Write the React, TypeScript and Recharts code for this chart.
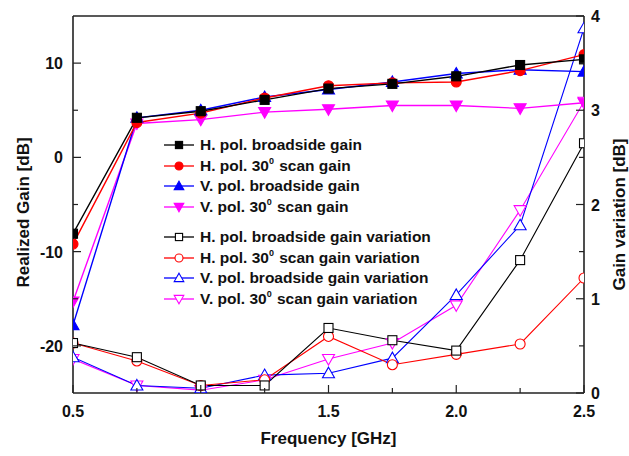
import React from 'react';
import { ComposedChart, Line, XAxis, YAxis, ReferenceLine } from 'recharts';

// frequency points [GHz]
const freq = [0.5, 0.75, 1.0, 1.25, 1.5, 1.75, 2.0, 2.25, 2.5];

// realized gain [dB] (left axis)
const hBroadGain = [-8.1, 4.2, 4.9, 6.1, 7.3, 7.8, 8.6, 9.8, 10.4];
const hScanGain = [-9.2, 3.7, 4.7, 6.3, 7.6, 7.9, 8.0, 9.2, 10.9];
const vBroadGain = [-17.8, 4.2, 5.0, 6.4, 7.2, 8.0, 8.9, 9.3, 9.1];
const vScanGain = [-15.3, 3.6, 4.0, 4.8, 5.1, 5.5, 5.5, 5.2, 5.8];

// gain variation [dB] (right axis)
const hBroadVar = [0.53, 0.38, 0.08, 0.08, 0.69, 0.56, 0.45, 1.41, 2.65];
const hScanVar = [0.53, 0.34, 0.08, 0.14, 0.6, 0.3, 0.41, 0.52, 1.22];
const vBroadVar = [0.38, 0.08, 0.05, 0.19, 0.21, 0.37, 1.04, 1.78, 3.87];
const vScanVar = [0.36, 0.08, 0.03, 0.14, 0.36, 0.53, 0.93, 1.94, 3.09];

const xTicks = [0.5, 0.75, 1.0, 1.25, 1.5, 1.75, 2.0, 2.25, 2.5];
const leftTicks = [-20, -15, -10, -5, 0, 5, 10];
const rightTicks = [0, 0.5, 1, 1.5, 2, 2.5, 3, 3.5, 4];

const FONT = '"Liberation Sans", Arial, Helvetica, sans-serif';

type Shape = 'square' | 'circle' | 'triangle' | 'triangleDown';

interface SeriesDef {
  key: string;
  name: string;
  color: string;
  shape: Shape;
  filled: boolean;
  axis: 'left' | 'right';
  values: number[];
}

const series: SeriesDef[] = [
  { key: 'hbg', name: 'H. pol. broadside gain', color: '#000000', shape: 'square', filled: true, axis: 'left', values: hBroadGain },
  { key: 'hsg', name: 'H. pol. 30⁰ scan gain', color: '#ff0000', shape: 'circle', filled: true, axis: 'left', values: hScanGain },
  { key: 'vbg', name: 'V. pol. broadside gain', color: '#0000ff', shape: 'triangle', filled: true, axis: 'left', values: vBroadGain },
  { key: 'vsg', name: 'V. pol. 30⁰ scan gain', color: '#ff00ff', shape: 'triangleDown', filled: true, axis: 'left', values: vScanGain },
  { key: 'hbv', name: 'H. pol. broadside gain variation', color: '#000000', shape: 'square', filled: false, axis: 'right', values: hBroadVar },
  { key: 'hsv', name: 'H. pol. 30⁰ scan gain variation', color: '#ff0000', shape: 'circle', filled: false, axis: 'right', values: hScanVar },
  { key: 'vbv', name: 'V. pol. broadside gain variation', color: '#0000ff', shape: 'triangle', filled: false, axis: 'right', values: vBroadVar },
  { key: 'vsv', name: 'V. pol. 30⁰ scan gain variation', color: '#ff00ff', shape: 'triangleDown', filled: false, axis: 'right', values: vScanVar },
];

const data = freq.map((f, i) => {
  const row: Record<string, number> = { f };
  series.forEach((s) => {
    row[s.key] = s.values[i];
  });
  return row;
});

function Marker({ cx, cy, shape, color, filled, scale = 1 }: any) {
  const fill = filled ? color : '#ffffff';
  const sw = 1.1;
  const h = 4.5 * scale;
  const t = 6 * scale;
  switch (shape as Shape) {
    case 'square':
      return <rect x={cx - h} y={cy - h} width={2 * h} height={2 * h} fill={fill} stroke={color} strokeWidth={sw} />;
    case 'circle':
      return <circle cx={cx} cy={cy} r={5 * scale} fill={fill} stroke={color} strokeWidth={sw} />;
    case 'triangle':
      return (
        <polygon
          points={`${cx},${cy - t} ${cx + t},${cy + t * 0.75} ${cx - t},${cy + t * 0.75}`}
          fill={fill}
          stroke={color}
          strokeWidth={sw}
        />
      );
    default:
      return (
        <polygon
          points={`${cx},${cy + t} ${cx + t},${cy - t * 0.75} ${cx - t},${cy - t * 0.75}`}
          fill={fill}
          stroke={color}
          strokeWidth={sw}
        />
      );
  }
}

const tickText = { fontFamily: FONT, fontWeight: 'bold' as const, fontSize: 16, fill: '#111' };
const titleText = { fontFamily: FONT, fontWeight: 'bold' as const, fontSize: 17, fill: '#111' };

const XTick = (props: any) => {
  const { x, y, payload } = props;
  const v = payload.value as number;
  const major = Math.abs(v * 2 - Math.round(v * 2)) < 1e-6;
  return (
    <g>
      <line x1={x} x2={x} y1={y} y2={y - (major ? 8 : 5)} stroke="#222" strokeWidth={1.2} />
      {major && (
        <text x={x} y={y + 24} textAnchor="middle" {...tickText}>
          {v.toFixed(1)}
        </text>
      )}
    </g>
  );
};

const LeftTick = (props: any) => {
  const { x, y, payload } = props;
  const v = payload.value as number;
  const major = v % 10 === 0;
  return (
    <g>
      <line x1={x} x2={x + (major ? 8 : 5)} y1={y} y2={y} stroke="#222" strokeWidth={1.2} />
      {major && (
        <text x={x - 10} y={y + 6} textAnchor="end" {...tickText}>
          {v}
        </text>
      )}
    </g>
  );
};

const RightTick = (props: any) => {
  const { x, y, payload } = props;
  const v = payload.value as number;
  const major = Number.isInteger(v);
  return (
    <g>
      <line x1={x} x2={x - (major ? 8 : 5)} y1={y} y2={y} stroke="#222" strokeWidth={1.2} />
      {major && (
        <text x={x + 7} y={y + 6} textAnchor="start" {...tickText}>
          {v}
        </text>
      )}
    </g>
  );
};

function renderName(name: string) {
  const parts = name.split('⁰');
  if (parts.length === 1) return name;
  return (
    <>
      {parts[0]}
      <span style={{ fontSize: 9, position: 'relative', top: -7, marginRight: 1 }}>0</span>
      {parts[1]}
    </>
  );
}

export default function App() {
  return (
    <div style={{ position: 'absolute', left: 0, top: 0, width: 629, height: 456, background: '#fff' }}>
      <ComposedChart width={629} height={456} data={data} margin={{ top: 16, right: 0, bottom: 0, left: 0 }}>
        <XAxis
          dataKey="f"
          type="number"
          domain={[0.5, 2.5]}
          ticks={xTicks}
          interval={0}
          height={63}
          tickSize={0}
          tickMargin={0}
          tickLine={false}
          tick={<XTick />}
          axisLine={{ stroke: '#222', strokeWidth: 1.6 }}
          allowDataOverflow
          label={{
            content: (p: any) => {
              const vb = p.viewBox;
              return (
                <text x={vb.x + vb.width / 2} y={vb.y + 51} textAnchor="middle" {...titleText}>
                  Frequency [GHz]
                </text>
              );
            },
          }}
        />
        <YAxis
          yAxisId="left"
          type="number"
          domain={[-25, 15]}
          ticks={leftTicks}
          interval={0}
          width={73}
          tickSize={0}
          tickMargin={0}
          tickLine={false}
          tick={<LeftTick />}
          axisLine={{ stroke: '#222', strokeWidth: 1.6 }}
          allowDataOverflow
          label={{
            content: (p: any) => {
              const vb = p.viewBox;
              const cx = vb.x + 29;
              const cy = vb.y + vb.height / 2 + 8;
              return (
                <text x={cx} y={cy} textAnchor="middle" transform={`rotate(-90 ${cx} ${cy})`} {...titleText}>
                  Realized Gain [dB]
                </text>
              );
            },
          }}
        />
        <YAxis
          yAxisId="right"
          orientation="right"
          type="number"
          domain={[0, 4]}
          ticks={rightTicks}
          interval={0}
          width={45}
          tickSize={0}
          tickMargin={0}
          tickLine={false}
          tick={<RightTick />}
          axisLine={{ stroke: '#222', strokeWidth: 1.6 }}
          allowDataOverflow
          label={{
            content: (p: any) => {
              const vb = p.viewBox;
              const cx = vb.x + 41;
              const cy = vb.y + vb.height / 2 + 10;
              return (
                <text x={cx} y={cy} textAnchor="middle" transform={`rotate(-90 ${cx} ${cy})`} {...titleText}>
                  Gain variation [dB]
                </text>
              );
            },
          }}
        />
        <ReferenceLine yAxisId="left" y={15} stroke="#222" strokeWidth={1.6} />
        {[...series].reverse().map((s) => (
          <Line
            key={s.key}
            yAxisId={s.axis}
            dataKey={s.key}
            type="linear"
            stroke={s.color}
            strokeWidth={s.filled ? 1.4 : 1.1}
            isAnimationActive={false}
            dot={(p: any) => (
              <Marker key={`${s.key}-${p.index}`} cx={p.cx} cy={p.cy} shape={s.shape} color={s.color} filled={s.filled} />
            )}
            activeDot={false}
          />
        ))}
      </ComposedChart>
      <div
        style={{
          position: 'absolute',
          left: 163,
          top: 135,
          fontFamily: FONT,
          fontWeight: 'bold',
          fontSize: 15.5,
          color: '#111',
          whiteSpace: 'nowrap',
        }}
      >
        {series.map((s, i) => (
          <div key={s.key} style={{ display: 'flex', alignItems: 'center', height: 20.5, marginTop: i === 4 ? 10 : 0 }}>
            <svg width={32} height={14}>
              <line x1={1} x2={31} y1={7} y2={7} stroke={s.color} strokeWidth={1.3} />
              <Marker cx={16} cy={7} shape={s.shape} color={s.color} filled={s.filled} scale={0.8} />
            </svg>
            <span style={{ marginLeft: 5 }}>{renderName(s.name)}</span>
          </div>
        ))}
      </div>
    </div>
  );
}
